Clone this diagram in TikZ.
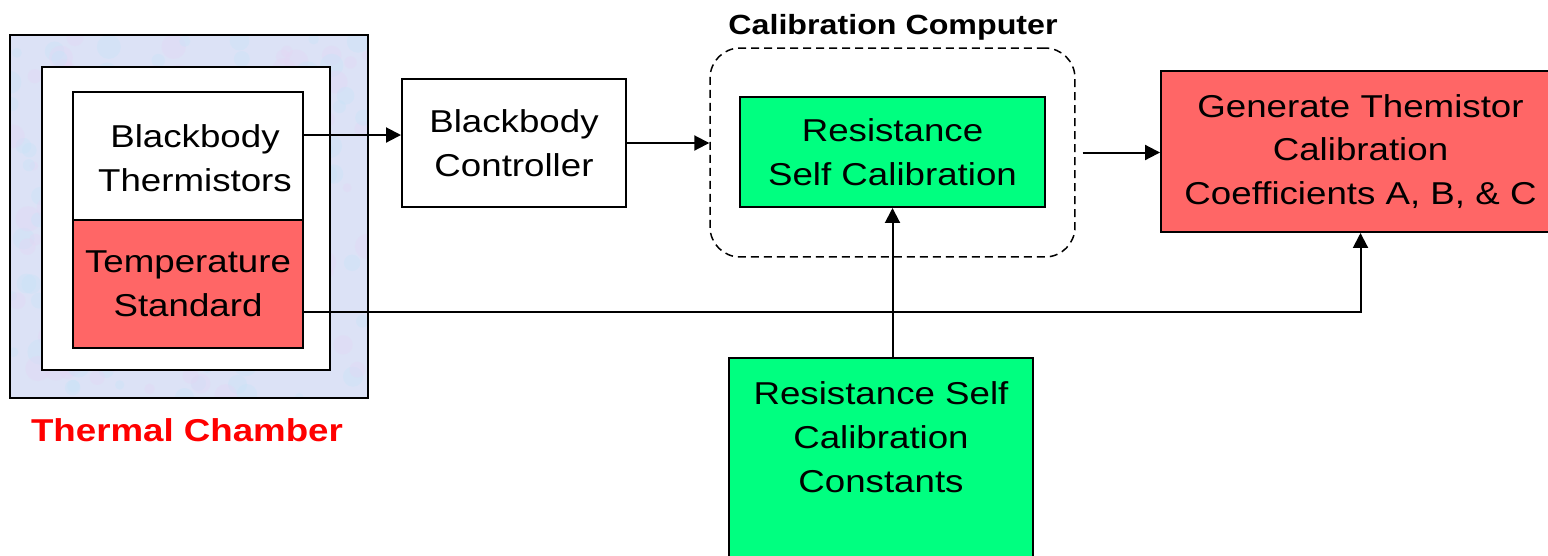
\documentclass[tikz,border=0pt]{standalone}
\usepackage{fontspec}
\setmainfont[FakeStretch=1.16]{Liberation Sans}
\usetikzlibrary{arrows.meta}
\definecolor{chamberblue}{HTML}{DCE2F6}
\definecolor{chambercyan}{HTML}{C6E4F8}
\definecolor{chamberlilac}{HTML}{E4D6F4}
\definecolor{stdred}{HTML}{FF6666}
\definecolor{calgreen}{HTML}{00FF80}
\tikzset{box/.style = {rectangle,draw,line width=0.04cm,align=center,inner sep=0pt,font=\fontsize{18}{25}\selectfont},
         arr/.style = {-{Triangle[length=0.3cm,width=0.3cm]},line width=0.04cm}}
\begin{document}
\begin{tikzpicture}[x=0.02cm,y=-0.02cm]
                    \useasboundingbox (0,0) rectangle (1548,555);
                    \clip (0,0) rectangle (1548,555);

                    % chamber wall with a mottled look
                    \node [rectangle,fill=chamberblue,minimum width=7.16cm,minimum height=7.26cm] (chamber) at (189,216.5) {};
                    \begin{scope}
                        \clip (chamber.south west) rectangle (chamber.north east);
                        \pgfmathsetseed{7}
                        \foreach \i in {1,...,240}{
                            \pgfmathsetmacro{\cx}{10+358*rnd}
                            \pgfmathsetmacro{\cy}{35+363*rnd}
                            \pgfmathsetmacro{\cr}{4+9*rnd}
                            \ifodd\i
                                \fill [chambercyan,opacity=0.35] (\cx,\cy) circle [radius=\cr];
                            \else
                                \fill [chamberlilac,opacity=0.35] (\cx,\cy) circle [radius=\cr];
                            \fi
                        }
                    \end{scope}
                    \draw [line width=0.04cm] (chamber.south west) rectangle (chamber.north east);

                    \node [box,fill=white,minimum width=5.76cm,minimum height=6.06cm] (inner) at (186,218.5) {};
                    \node [box,fill=white,minimum width=4.6cm,minimum height=2.56cm] (bt) at (188,156) {};
                    \node [font=\fontsize{18}{25}\selectfont,align=center] (bttext) at (195,158) {Blackbody\\Thermistors};
                    \node [box,fill=stdred,minimum width=4.6cm,minimum height=2.56cm] (ts) at (188,284) {Temperature\\Standard};
                    \node [font=\bfseries\fontsize{18}{25}\selectfont,text=red] (tclabel) at (187,430) {Thermal Chamber};

                    \node [box,minimum width=4.48cm,minimum height=2.56cm] (bc) at (514,143) {Blackbody\\Controller};

                    \node [draw,line width=0.03cm,dash pattern=on 0.16cm off 0.1cm,rounded corners=0.6cm,
                           minimum width=7.3cm,minimum height=4.18cm] (cc) at (892.5,152.5) {};
                    \node [font=\bfseries\fontsize{15.8}{20}\selectfont] (cctitle) at (893,27) {Calibration Computer};
                    \node [box,fill=calgreen,minimum width=6.1cm,minimum height=2.2cm] (rsc) at (892.5,152) {Resistance\\Self Calibration};

                    \node [box,fill=calgreen,minimum width=6.08cm,minimum height=4.34cm] (constbox) at (881,466.5) {};
                    \node [font=\fontsize{18}{25}\selectfont,align=center] (const) at (881,437) {Resistance Self\\Calibration\\Constants};

                    \node [box,fill=stdred,minimum width=7.98cm,minimum height=3.22cm] (gen) at (1360.5,151.5) {Generate Themistor\\Calibration\\Coefficients A, B, \& C};

                    \draw [arr] ([yshift=0.42cm]bt.east) -- ([yshift=0.42cm]bt.east -| bc.west);
                    \draw [arr] (bc.east) -- (bc.east -| cc.west);
                    \draw [arr,shorten <=0.14cm] (cc.east) -- (cc.east -| gen.west);
                    \draw [arr] (constbox.north -| rsc.south) -- (rsc.south);
                    \draw [arr] ([yshift=-0.56cm]ts.east) -| (gen.south);
                \end{tikzpicture}
\end{document}
